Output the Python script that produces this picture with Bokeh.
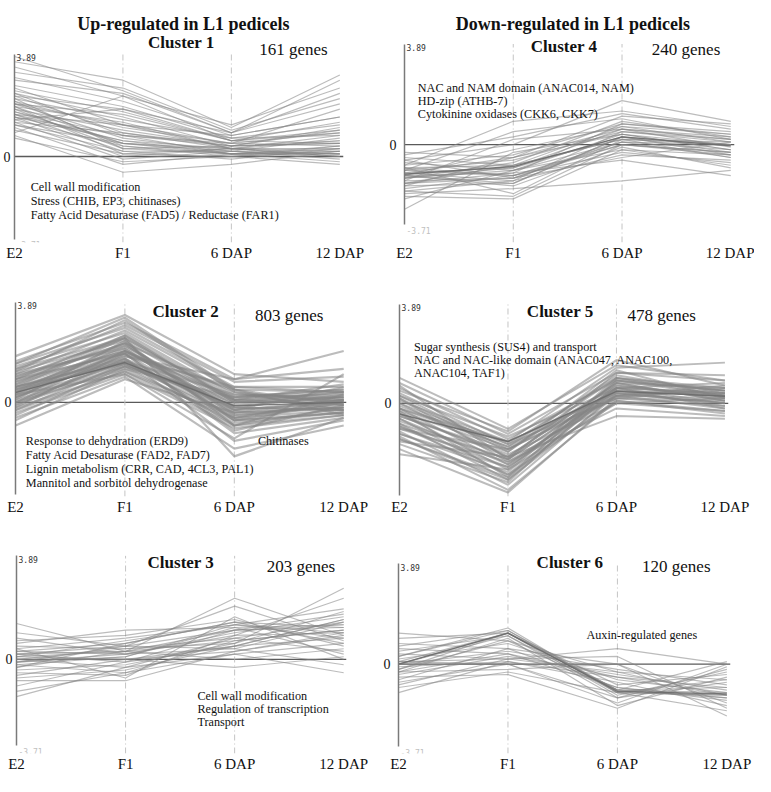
from bokeh.plotting import figure
from bokeh.models import Range1d, FixedTicker, Span
from bokeh.layouts import column, row
from bokeh.embed import file_html
from bokeh.resources import INLINE
from bokeh.core.properties import value

# ---------------- data ----------------
timepoints = ["E2", "F1", "6 DAP", "12 DAP"]
divider_points = ["F1", "6 DAP"]
axis_top_value = 3.89
axis_top_label = "3.89"
axis_bottom_label = "-3.71"

headers = ["Up-regulated in L1 pedicels", "Down-regulated in L1 pedicels"]
cluster_titles = ["Cluster 1", "Cluster 2", "Cluster 3", "Cluster 4", "Cluster 5", "Cluster 6"]
gene_counts = [161, 803, 203, 240, 478, 120]

notes_c1 = ["Cell wall modification", "Stress (CHIB, EP3, chitinases)",
            "Fatty Acid Desaturase (FAD5) / Reductase (FAR1)"]
notes_c2 = ["Response to dehydration (ERD9)", "Fatty Acid Desaturase (FAD2, FAD7)",
            "Lignin metabolism (CRR, CAD, 4CL3, PAL1)", "Mannitol and sorbitol dehydrogenase"]
notes_c2_side = ["Chitinases"]
notes_c3 = ["Cell wall modification", "Regulation of transcription", "Transport"]
notes_c4 = ["NAC and NAM domain (ANAC014, NAM)", "HD-zip (ATHB-7)", "Cytokinine oxidases (CKK6, CKK7)"]
notes_c5 = ["Sugar synthesis (SUS4) and transport", "NAC and NAC-like domain (ANAC047, ANAC100,",
            "ANAC104, TAF1)"]
notes_c6 = ["Auxin-regulated genes"]

# expression profiles (E2, F1, 6 DAP, 12 DAP)
c1_profiles = [
    [3.8, 2.5, 0.9, 2.9], [3.6, 2.9, 1.1, 3.1], [3.4, 2.3, 1.2, 2.6], [3.2, 2.6, 1.0, 2.2],
    [3.0, 2.1, 0.8, 1.5], [2.9, 2.4, 0.9, 2.0], [2.7, 1.9, 0.7, 1.2], [2.6, 1.2, 0.5, 1.8],
    [2.5, 1.7, 0.6, 0.9], [2.4, 1.5, 0.4, 1.1], [2.3, 0.9, 0.3, 0.6], [2.2, 1.4, 0.7, 0.8],
    [2.1, 1.1, 0.5, 0.4], [2.0, 0.7, 0.2, 0.7], [2.0, 1.6, 0.6, 1.3], [1.9, 0.5, 0.3, 0.2],
    [1.8, 1.0, 0.4, 0.5], [1.8, 0.3, 0.1, 0.3], [1.7, 0.8, 0.5, 0.9], [1.6, 0.2, 0.2, 0.1],
    [1.6, 1.2, 0.8, 1.5], [1.5, 0.6, 0.1, 0.4], [1.5, 0.0, 0.3, 0.0], [1.4, 0.4, 0.0, 0.2],
    [1.3, -0.1, 0.2, -0.1], [1.3, 0.9, 0.4, 0.6], [1.2, 0.2, -0.1, 0.3], [1.1, -0.3, 0.1, -0.2],
    [1.0, 0.1, 0.3, 0.1], [0.9, 2.3, 0.6, 0.5], [0.8, -0.6, -0.3, 0.2], [0.7, -0.2, 0.0, -0.3],
    [1.4, 1.8, 0.9, 2.4], [2.2, 0.3, 0.4, 1.0], [1.9, 1.3, 0.3, 0.0], [2.4, 0.8, 0.1, 0.2],
    [2.0, 1.2, 0.3, 0.3], [1.7, 0.5, 0.2, 0.0], [1.5, 0.8, 0.4, 0.5], [2.3, 1.8, 0.6, 1.0],
    [1.2, 0.5, 0.1, 0.1], [1.9, 0.1, 0.0, 0.4], [1.6, 0.6, 0.3, 0.8], [2.1, 0.4, 0.1, 0.1],
]
c1_centroid = None

c2_profiles = [
    [1.8, 3.4, 1.1, 0.8], [1.6, 3.1, 0.9, 1.3], [1.5, 2.9, 0.6, 0.6], [1.4, 2.7, 0.3, 0.2],
    [1.3, 3.0, 0.8, 1.0], [1.2, 2.4, 0.0, 0.4], [1.1, 2.8, 0.5, -0.1], [1.0, 2.2, -0.3, 0.1],
    [0.9, 2.6, 0.2, 0.5], [0.9, 1.9, -0.6, -0.3], [0.8, 2.3, 0.4, 0.0], [0.7, 2.0, -0.2, 0.3],
    [0.6, 1.7, -0.9, -0.5], [0.6, 2.5, 0.1, 0.7], [0.5, 2.1, -0.4, -0.2], [0.4, 1.6, 0.3, 0.1],
    [0.4, 1.9, -1.2, -0.6], [0.3, 2.2, -0.1, 0.2], [0.2, 1.5, -0.5, -0.1], [0.2, 1.8, 0.6, 0.4],
    [0.1, 1.4, -0.8, -0.4], [0.0, 2.0, -0.3, 0.0], [0.0, 1.3, 0.2, 0.5], [-0.1, 1.7, -1.5, -0.7],
    [-0.2, 1.2, -0.6, 0.1], [-0.3, 1.5, -0.2, -0.3], [-0.4, 1.1, -1.0, -0.5], [-0.5, 1.4, 0.0, 0.2],
    [-0.6, 1.0, -1.8, -0.9], [-0.7, 1.3, -0.7, -0.4], [-0.9, 0.9, -0.4, -0.2], [1.0, 2.5, -2.1, -0.6],
    [0.5, 1.8, 0.9, 2.0], [1.2, 3.2, 0.4, -0.3], [0.3, 1.1, -1.4, 1.1], [0.8, 2.0, 0.1, -0.1],
    [0.1, 2.4, -0.9, 0.3], [-0.2, 1.9, 0.5, -0.5], [0.6, 1.6, -0.3, 0.6], [1.1, 2.1, -0.7, 0.0],
    [0.9, 2.3, -0.5, -0.2], [0.7, 2.6, 0.0, 0.1], [0.5, 1.5, -0.6, 0.0], [0.3, 1.7, -0.2, -0.3],
    [0.2, 2.0, 0.2, 0.3], [0.0, 1.6, -0.4, 0.1], [-0.3, 1.2, -0.9, -0.2], [1.3, 2.5, 0.1, 0.2],
    [0.4, 2.3, -0.7, -0.4], [-0.1, 1.4, 0.1, 0.4], [0.6, 1.9, -1.1, -0.1], [1.5, 3.3, 0.5, 0.4],
]
c2_centroid = [0.38, 1.55, -0.13, 0.0]

c3_profiles = [
    [1.35, 0.3, 2.3, 0.9], [1.0, 0.5, 2.0, 0.7], [0.7, 0.9, 1.5, 0.5], [0.6, 1.1, 1.2, 0.2],
    [0.5, 0.4, 0.6, 2.67], [0.4, 0.8, 1.3, 1.9], [0.3, 0.2, 0.9, 2.3], [0.3, 0.6, 1.4, 1.2],
    [0.2, -0.1, 0.5, 1.5], [0.2, 0.3, 1.1, 1.7], [0.1, 0.7, 1.3, 0.8], [0.1, 0.0, 0.3, 1.0],
    [0.0, 0.4, 0.8, 1.4], [0.0, -0.3, 0.2, 0.6], [-0.1, 0.2, 1.0, 1.6], [-0.1, 0.5, 0.4, -0.2],
    [-0.2, -0.5, 0.7, 1.1], [-0.2, 0.1, 1.2, 1.3], [-0.3, 0.3, 0.0, 0.4], [-0.4, -0.2, 0.6, 1.8],
    [-0.5, -0.6, 0.9, 1.0], [-0.6, 0.0, -0.3, 0.1], [-0.7, -0.4, 0.5, 1.5], [-0.8, -0.8, 0.3, 0.9],
    [-1.0, -0.1, 1.1, 1.2], [-1.2, -0.5, 0.2, -0.5], [-1.4, -0.3, 0.8, 0.3], [0.4, -0.7, 1.6, 0.0],
    [0.8, 0.2, 0.4, 1.4], [-0.3, 0.6, 1.4, 0.6], [0.1, 0.3, 0.7, 1.1], [-0.1, 0.1, 1.3, 1.0],
    [0.2, 0.5, 1.1, 1.3], [0.0, 0.0, 0.5, 0.8],
]
c3_centroid = None

c4_profiles = [
    [-0.3, -0.5, 0.6, 0.3], [-0.4, 0.3, 1.2, 0.6], [-0.5, -0.8, 0.2, 0.0], [-0.6, 0.0, 1.7, 0.9],
    [-0.7, -1.0, -0.2, -0.4], [-0.8, -0.4, 0.8, 0.5], [-0.8, 0.9, 1.3, 0.7], [-0.9, -1.2, 0.0, -0.3],
    [-1.0, -0.6, 0.5, 0.1], [-1.0, 0.5, 1.0, 0.2], [-1.1, -1.4, -0.4, -0.6], [-1.1, -0.9, 0.3, 0.0],
    [-1.2, -0.2, 0.7, 0.4], [-1.2, -1.6, -0.1, -0.9], [-1.3, -1.0, 0.4, -0.2], [-1.3, -0.7, 0.9, 0.3],
    [-1.4, -1.3, 0.1, -0.5], [-1.4, 0.2, 0.6, -0.1], [-1.5, -1.1, -0.6, -1.2], [-1.5, -0.8, 0.2, 0.1],
    [-1.6, -1.5, 0.3, -0.3], [-1.6, -0.5, 1.1, 0.8], [-1.7, -1.2, -0.3, -0.7], [-1.8, -2.0, 0.0, -0.4],
    [-1.8, -1.4, 0.5, 0.2], [-1.9, -1.7, -1.4, -1.0], [-2.0, -2.1, -0.2, -0.8], [-2.1, -1.0, 0.1, 0.0],
    [-2.5, -0.3, 0.4, -0.2], [-0.9, -1.9, 0.2, -0.5], [-1.2, -1.1, 0.8, 0.4], [-0.6, -1.3, -0.5, 0.1],
    [-1.0, -1.2, 0.1, -0.2], [-1.3, -0.9, 0.6, 0.2], [-1.1, -0.5, 0.4, 0.0], [-1.5, -1.3, 0.0, -0.3],
    [-0.9, -0.8, 0.7, 0.1], [-1.2, -1.5, 0.3, -0.4],
]
c4_centroid = [-1.15, -0.85, 0.3, -0.05]

c5_profiles = [
    [1.0, -1.0, 1.5, 0.9], [0.8, -1.2, 1.2, 1.1], [0.6, -1.4, 0.9, 0.5], [0.5, -1.1, 1.7, 0.7],
    [0.4, -1.6, 1.0, 0.3], [0.3, -1.3, 0.6, 0.8], [0.2, -1.9, 1.3, 0.2], [0.1, -1.5, 0.4, 0.0],
    [0.0, -2.1, 0.8, 0.6], [-0.1, -1.7, 1.1, 0.4], [-0.2, -2.4, 0.5, -0.1], [-0.3, -1.8, 0.2, 0.1],
    [-0.4, -2.6, 0.9, 0.5], [-0.5, -2.0, 0.0, -0.3], [-0.6, -2.8, 0.7, 0.2], [-0.7, -2.2, 1.2, 0.9],
    [-0.8, -3.0, 0.3, -0.2], [-0.9, -2.5, 0.6, 0.4], [-1.0, -2.3, -0.2, -0.5], [-1.1, -3.2, 0.4, 0.0],
    [-1.2, -2.7, 1.0, 0.6], [-1.3, -3.4, 0.1, -0.4], [-1.4, -2.9, 0.5, 0.3], [-1.5, -2.1, -0.5, -0.6],
    [-1.6, -3.1, 0.8, 0.1], [-1.8, -3.5, 0.2, -0.1], [-2.0, -2.6, 0.0, 0.2], [-0.2, -1.5, 1.4, 1.6],
    [0.7, -2.2, 0.6, -0.2], [-1.0, -1.8, 0.3, 0.7], [-0.3, -2.9, 0.9, 0.3], [0.2, -2.3, 0.3, 0.5],
    [-0.2, -1.7, 0.5, 0.3], [-0.4, -2.1, 0.8, 0.1], [-0.6, -2.4, 0.4, 0.4], [-0.8, -2.2, 0.6, 0.0],
    [0.0, -1.6, 0.2, 0.6], [-1.2, -2.5, 0.3, 0.2], [-0.5, -1.9, 1.0, 0.5], [-0.9, -2.8, 0.1, -0.3],
    [0.3, -1.8, 0.7, 0.3], [-1.4, -3.0, 0.6, 0.4],
]
c5_centroid = [-0.42, -1.5, 0.47, 0.28]

c6_profiles = [
    [1.2, 0.9, -0.3, -1.2], [1.0, 1.2, -0.8, -0.4], [0.8, 0.6, 0.0, -1.5], [0.7, 1.3, -1.0, 0.1],
    [0.6, 0.4, -0.5, -0.9], [0.5, 1.1, -1.3, -0.2], [0.4, 0.2, 0.3, -1.7], [0.3, 1.4, -1.1, -0.6],
    [0.2, 0.8, -0.6, -1.1], [0.1, 0.0, -1.5, 0.0], [0.1, 1.2, -1.0, -1.3], [0.0, 0.5, -0.2, -0.8],
    [0.0, 1.2, -1.2, -0.3], [-0.1, 0.1, -0.7, -1.6], [-0.2, 0.9, -1.0, -0.9], [-0.3, -0.2, 0.0, -2.0],
    [-0.3, 1.0, -1.6, -0.5], [-0.4, 0.3, -0.4, -1.0], [-0.5, -0.4, -1.7, -0.1], [-0.6, 0.6, -0.9, -1.4],
    [-0.7, 0.0, -1.3, -0.7], [-0.8, 0.2, 0.6, 0.0], [-0.9, -0.3, -1.1, -1.8], [-1.1, 0.1, -0.5, -1.2],
    [0.3, 1.3, -1.1, -1.2], [-0.2, 1.2, -1.0, -1.1], [0.0, 1.1, -1.1, -1.2], [0.1, 0.2, -0.3, -0.6],
    [-0.3, 0.4, -0.9, -1.3],
]
c6_centroid = [0.0, 1.2, -1.05, -1.15]

# ---------------- layout constants (reference pixel geometry) ----------------
SCALE = 0.975
FIG_W = 377
ROW_H = [265, 252, 257]
ROW_START = [0, 272, 530]
SERIF = "Liberation Serif"
LINE_COLOR = "#858585"


def make_panel(col, rw, geom, profiles, centroid, title, count, notes, line_w, line_a, header=None):
    L_ref, R_ref, T_ref, Z_ref, A_ref, Fb_ref = geom
    H = ROW_H[rw]

    def cx(rx):
        return SCALE * rx - col * FIG_W

    def cy(ry):
        return SCALE * (ry - ROW_START[rw])

    L = int(round(cx(L_ref)))
    u = (cx(R_ref) - L) / 3.0
    fw = int(round(3.03 * u))
    br = FIG_W - L - fw
    Fh = int(round(cy(Fb_ref)))
    bb = H - Fh
    z = cy(Z_ref)
    k = (z - cy(T_ref)) / axis_top_value
    y_end = z / k
    y_start = -(Fh - z) / k
    y_axis_bottom = -(cy(A_ref) - z) / k
    x_end = fw / u

    def to_data(rx, ry):
        return (cx(rx) - L) / u, (z - cy(ry)) / k

    p = figure(width=FIG_W, height=H, x_range=Range1d(0, x_end), y_range=Range1d(y_start, y_end),
               output_backend="svg", toolbar_location=None, title=None,
               min_border_left=L, min_border_right=br, min_border_top=0, min_border_bottom=bb)
    p.outline_line_color = None
    p.xgrid.visible = False
    p.ygrid.visible = False
    p.background_fill_color = "white"
    p.border_fill_color = "white"

    xs_pos = list(range(len(timepoints)))

    # x axis
    p.xaxis.ticker = FixedTicker(ticks=xs_pos)
    p.xaxis.major_label_overrides = {i: t for i, t in enumerate(timepoints)}
    p.xaxis.axis_line_color = None
    p.xaxis.major_tick_line_color = None
    p.xaxis.minor_tick_line_color = None
    p.xaxis.major_tick_out = 0
    p.xaxis.major_tick_in = 0
    p.xaxis.minor_tick_out = 0
    p.xaxis.major_label_standoff = 2
    p.xaxis.major_label_text_font = SERIF
    p.xaxis.major_label_text_font_size = "15px"
    p.xaxis.major_label_text_color = "#111111"

    # y axis
    p.yaxis.ticker = FixedTicker(ticks=[0])
    p.yaxis.major_label_overrides = {0: "0"}
    p.yaxis.bounds = (y_axis_bottom, axis_top_value)
    p.yaxis.axis_line_color = "#7a7a7a"
    p.yaxis.axis_line_width = 1.5
    p.yaxis.major_tick_line_color = None
    p.yaxis.minor_tick_line_color = None
    p.yaxis.major_tick_out = 0
    p.yaxis.major_tick_in = 0
    p.yaxis.minor_tick_out = 0
    p.yaxis.major_label_standoff = 4 if col == 0 else 8
    p.yaxis.major_label_text_font = SERIF
    p.yaxis.major_label_text_font_size = "14px"
    p.yaxis.major_label_text_color = "#111111"

    # vertical dash-dot guides at F1 and 6 DAP
    vx = [timepoints.index(d) for d in divider_points]
    p.segment(x0=vx, y0=[y_start] * len(vx), x1=vx, y1=[axis_top_value] * len(vx),
              line_color="#c4c4c4", line_width=1, line_dash="6 3 1 3")

    # zero line
    p.add_layout(Span(location=0, dimension="width", line_color="#5a5a5a", line_width=1.3, level="underlay"))

    # gene profiles
    p.multi_line(xs=[xs_pos] * len(profiles), ys=profiles, line_color=LINE_COLOR,
                 line_width=line_w, line_alpha=line_a)
    if centroid is not None:
        p.line(x=xs_pos, y=centroid, line_color="#6a6a6a", line_width=1.4, line_alpha=0.9)

    # axis extreme labels
    p.text(x=[0], y=[axis_top_value], text=[axis_top_label], x_offset=2, y_offset=0,
           text_baseline="top", text_font=value("DejaVu Sans Mono"), text_font_size="8px",
           text_color="#333333")
    p.text(x=[0], y=[y_axis_bottom], text=[axis_bottom_label], x_offset=2, y_offset=2,
           text_baseline="top", text_font=value("DejaVu Sans Mono"), text_font_size="8px",
           text_color="#c0c0c0")

    def put(texts, rx, ry0, dy, size, bold=False, align="left"):
        xs, ys = [], []
        for i, _ in enumerate(texts):
            dx_, dy_ = to_data(rx, ry0 + i * dy)
            xs.append(dx_)
            ys.append(dy_)
        p.text(x=xs, y=ys, text=texts, text_font=value(SERIF), text_font_size=size,
               text_font_style="bold" if bold else "normal", text_align=align,
               text_baseline="alphabetic", text_color="#111111")

    if header is not None:
        put([header[0]], header[1], header[2], 0, "18px", bold=True, align="center")
    put([title[0]], title[1], title[2], 0, "17px", bold=True, align="center")
    put(["%d genes" % count[0]], count[1], count[2], 0, "17px")
    for block in notes:
        put(block[0], block[1], block[2], block[3], "12.2px")
    return p


p1 = make_panel(0, 0, (13, 348, 55, 160, 245, 248), c1_profiles, c1_centroid,
                (cluster_titles[0], 185, 43), (gene_counts[0], 265, 50),
                [(notes_c1, 30, 191, 14.3)], 1.15, 0.55, header=(headers[0], 187, 24))
p2 = make_panel(0, 1, (15, 352, 310, 413, 508, 510), c2_profiles, c2_centroid,
                (cluster_titles[1], 190, 319), (gene_counts[1], 261, 323),
                [(notes_c2, 26, 453, 14.5), (notes_c2_side, 264, 453, 0)], 2.2, 0.55)
p3 = make_panel(0, 2, (16, 352, 570, 678, 768, 776), c3_profiles, c3_centroid,
                (cluster_titles[2], 185, 577), (gene_counts[2], 273, 581),
                [(notes_c3, 202, 716, 13.7)], 1.15, 0.55)
p4 = make_panel(1, 0, (414, 749, 45, 149, 232, 250), c4_profiles, c4_centroid,
                (cluster_titles[3], 578, 48), (gene_counts[3], 668, 51),
                [(notes_c4, 428, 91, 13.3)], 1.2, 0.55, header=(headers[1], 587, 24))
p5 = make_panel(1, 1, (409, 743, 312, 414, 509, 510), c5_profiles, c5_centroid,
                (cluster_titles[4], 574, 319), (gene_counts[4], 643, 323),
                [(notes_c5, 424, 356, 13.5)], 2.0, 0.55)
p6 = make_panel(1, 2, (408, 745, 578, 683, 769, 776), c6_profiles, c6_centroid,
                (cluster_titles[5], 584, 577), (gene_counts[5], 658, 581),
                [(notes_c6, 601, 653, 0)], 1.15, 0.55)

layout = column(row(p1, p4), row(p2, p5), row(p3, p6))
open("out.html", "w").write(file_html(layout, INLINE))
